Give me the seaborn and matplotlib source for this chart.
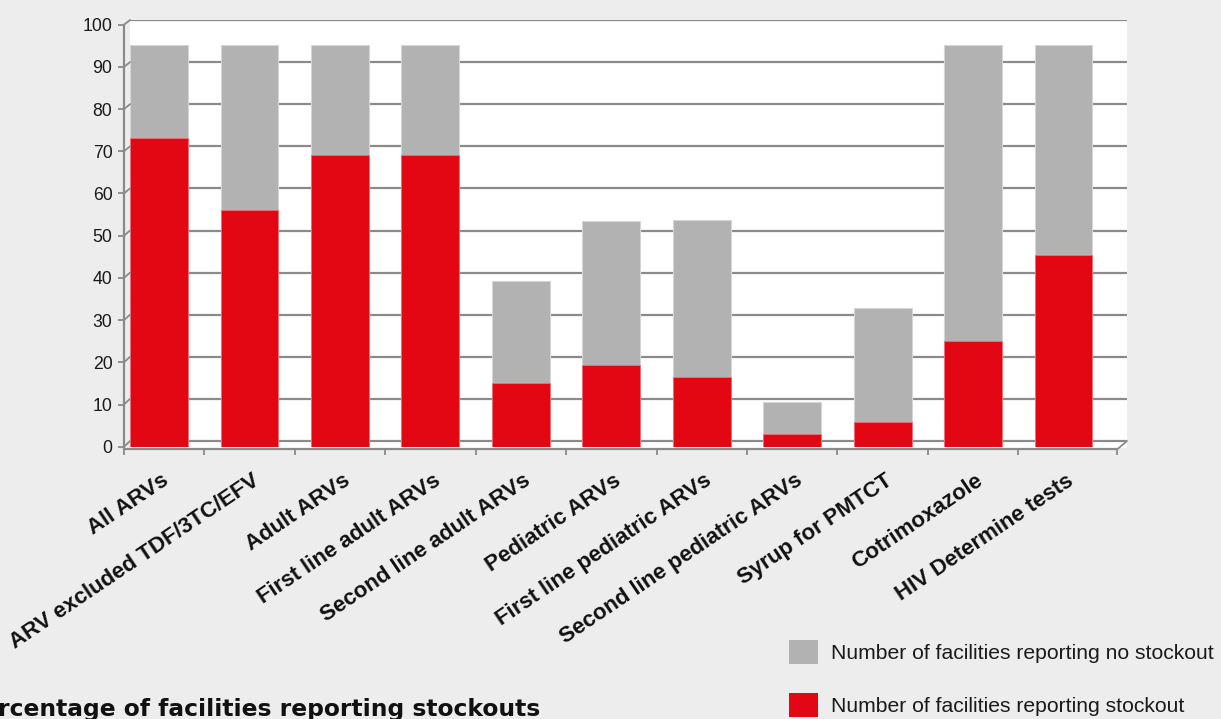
import numpy as np
import pandas as pd
import seaborn as sns
import matplotlib.pyplot as plt
import matplotlib.transforms as mtransforms
from matplotlib.lines import Line2D
from matplotlib.patches import Patch

# -------------------------------
# values
categories = ["All ARVs", "ARV excluded TDF/3TC/EFV", "Adult ARVs",
              "First line adult ARVs", "Second line adult ARVs", "Pediatric ARVs",
              "First line pediatric ARVs", "Second line pediatric ARVs",
              "Syrup for PMTCT", "Cotrimoxazole", "HIV Determine tests"]
stockout = [73.2, 56.2, 69.1, 69.1, 15.2, 19.3, 16.6, 3.1, 5.9, 25.1, 45.4]
total = [95.2, 95.2, 95.2, 95.2, 39.3, 53.5, 53.7, 10.6, 32.8, 95.2, 95.2]
legend_labels = ["Number of facilities reporting no stockout",
                 "Number of facilities reporting stockout"]
title = "Percentage of facilities reporting stockouts"
yticks = list(range(0, 101, 10))

df = pd.DataFrame({"category": categories, "stockout": stockout, "total": total})

RED = "#e30613"
GREY = "#b2b2b2"
LINE = "#8a8a8a"
BG = "#ededed"

sns.set_theme(style="white")
plt.rcParams["font.family"] = ["Liberation Sans", "DejaVu Sans"]

W, H = 1221, 719
fig = plt.figure(figsize=(W / 100, H / 100), dpi=100, facecolor=BG)

# -------------------------------
# back wall (white with gridlines), slightly offset like the 3d excel chart
back = fig.add_axes([130 / W, 1 - 448 / H, (1127 - 130) / W, (448 - 20) / H])
back.set_facecolor("white")
back.set_xlim(0, 1)
back.set_ylim(-1.66, 100)
for v in yticks:
    back.axhline(v, color=LINE, lw=1.6, zorder=1)
back.set_xticks([])
back.set_yticks([])
for s in back.spines.values():
    s.set_visible(False)

# -------------------------------
# front axes with the stacked bars
ax = fig.add_axes([124 / W, 1 - 446.7 / H, (1117 - 124) / W, (446.7 - 24.7) / H])
ax.patch.set_alpha(0)

sns.barplot(data=df, x="category", y="total", color=GREY, saturation=1,
            width=0.64, edgecolor="#d6d6d6", linewidth=0.8, ax=ax, zorder=3)
sns.barplot(data=df, x="category", y="stockout", color=RED, saturation=1,
            width=0.64, edgecolor="#f07078", linewidth=0.6, ax=ax, zorder=4)

xmin, xmax = -0.387, 10.591
ax.set_xlim(xmin, xmax)
ax.set_ylim(0, 100)
ax.set_xlabel("")
ax.set_ylabel("")

for side in ["top", "right"]:
    ax.spines[side].set_visible(False)
for side in ["left", "bottom"]:
    ax.spines[side].set_color(LINE)
    ax.spines[side].set_linewidth(1.6)
ax.spines["bottom"].set_position(("outward", 2))

ax.set_yticks(yticks)
ax.tick_params(axis="y", length=4.3, width=1.3, color=LINE, pad=4,
               labelsize=12.7, labelcolor="#1a1a1a", left=True)

ax.set_xticks(range(len(categories)))
ax.set_xticks([xmin] + [i + 0.5 for i in range(len(categories) - 1)] + [xmax], minor=True)
ax.tick_params(axis="x", which="major", length=0, pad=15)
ax.tick_params(axis="x", which="minor", length=4.5, width=1.3, color=LINE, bottom=True)
ax.set_xticklabels(categories, rotation=34, ha="right", rotation_mode="anchor",
                   fontsize=16, fontweight="bold", color="#111111")
shift = mtransforms.ScaledTranslation(2 / 100, 0, fig.dpi_scale_trans)
for lab in ax.get_xticklabels():
    lab.set_transform(lab.get_transform() + shift)

# short diagonals joining the front axis to the back wall
fig.canvas.draw()
inv = fig.transFigure.inverted()
for v in yticks:
    p0 = inv.transform(ax.transData.transform((xmin, v)))
    p1 = inv.transform(back.transData.transform((0, v)))
    fig.add_artist(Line2D([p0[0], p1[0]], [p0[1], p1[1]], color=LINE, lw=1.3))
p0 = inv.transform(ax.transData.transform((xmax, 0)) + np.array([0, -2.8]))
p1 = inv.transform(back.transData.transform((1, 0)))
fig.add_artist(Line2D([p0[0], p1[0]], [p0[1], p1[1]], color=LINE, lw=1.3))

# -------------------------------
# legend and title
handles = [Patch(facecolor=GREY, edgecolor="none"), Patch(facecolor=RED, edgecolor="none")]
leg = fig.legend(handles, legend_labels, loc="upper left",
                 bbox_to_anchor=(789 / W, 1 - 640 / H), frameon=False,
                 borderpad=0, borderaxespad=0, handlelength=1.38, handleheight=1.38,
                 handletextpad=0.62, labelspacing=1.35, fontsize=15.2)
for t in leg.get_texts():
    t.set_color("#1a1a1a")

# title runs off the left edge in the source image
fig.text(540 / W, 1 - 716 / H, title, ha="right", va="baseline",
         fontsize=16.8, fontweight="bold", family=["DejaVu Sans"],
         color="#111111")

fig.savefig("out.png", dpi=100, facecolor=fig.get_facecolor())
plt.close()
